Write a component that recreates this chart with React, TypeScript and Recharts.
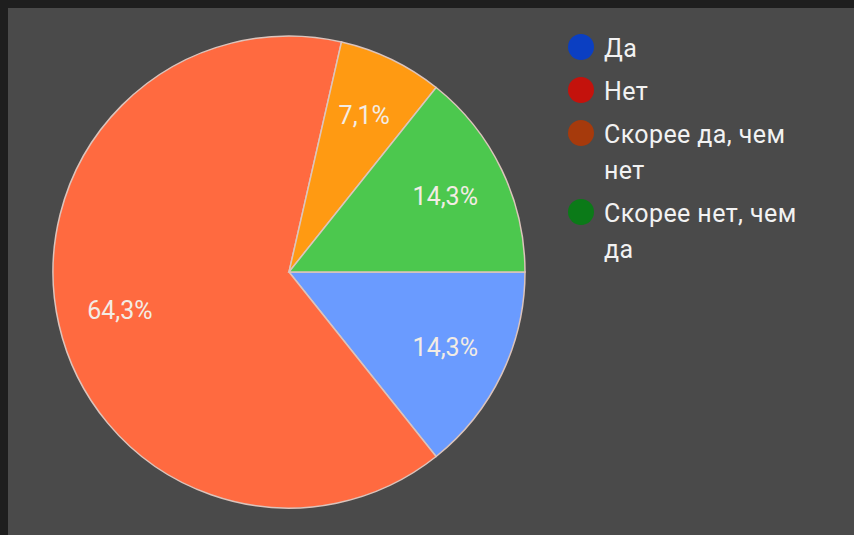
import { PieChart, Pie, Cell, Legend } from 'recharts';

const categories = ['Да', 'Нет', 'Скорее да, чем нет', 'Скорее нет, чем да'];
const counts = [2, 9, 1, 2];
const percentLabels = ['14,3%', '64,3%', '7,1%', '14,3%'];
const sliceColors = ['#6a9bff', '#ff6a40', '#ff9a12', '#4cc84e'];
const legendColors = ['#0b3fc2', '#c4120c', '#a63a0c', '#0b7a18'];

const data = categories.map((name, i) => ({ name, value: counts[i], label: percentLabels[i] }));

const FONT = 'Roboto, "Noto Sans", sans-serif';
const RADIAN = Math.PI / 180;

const renderLabel = (props: any) => {
  const { cx, cy, midAngle, outerRadius, index } = props;
  const r = outerRadius * 0.735;
  const x = cx + r * Math.cos(-midAngle * RADIAN);
  const y = cy + r * Math.sin(-midAngle * RADIAN);
  return (
    <text
      x={x}
      y={y}
      fill="#f3ece4"
      textAnchor="middle"
      dominantBaseline="central"
      style={{ fontSize: 25, fontFamily: FONT }}
    >
      {percentLabels[index]}
    </text>
  );
};

const renderLegend = () => (
  <div style={{ fontFamily: FONT, fontSize: 25, letterSpacing: 0.4, color: '#f2f2f2', lineHeight: '36px' }}>
    {categories.map((name, i) => (
      <div key={name} style={{ display: 'flex', alignItems: 'flex-start', marginBottom: 7 }}>
        <span
          style={{
            width: 26,
            height: 26,
            borderRadius: '50%',
            background: legendColors[i],
            marginTop: 3,
            marginRight: 10,
            flexShrink: 0,
          }}
        />
        <span style={{ width: 200 }}>{name}</span>
      </div>
    ))}
  </div>
);

export default function App() {
  return (
    <div style={{ position: 'absolute', left: 0, top: 0, width: 854, height: 535, background: '#1e1e1e' }}>
      <div style={{ position: 'absolute', left: 8, top: 8, right: 0, bottom: 0, background: '#4a4a4a' }} />
      <div style={{ position: 'absolute', left: 0, top: 0 }}>
        <PieChart width={854} height={535} margin={{ top: 0, right: 0, bottom: 0, left: 0 }}>
          <Pie
            data={data}
            dataKey="value"
            nameKey="name"
            cx={289}
            cy={272}
            outerRadius={236}
            startAngle={0}
            endAngle={-360}
            stroke="#dcc4bc"
            strokeWidth={1.5}
            label={renderLabel}
            labelLine={false}
            isAnimationActive={false}
          >
            {data.map((d, i) => (
              <Cell key={d.name} fill={sliceColors[i]} />
            ))}
          </Pie>
          <Legend
            content={renderLegend}
            layout="vertical"
            verticalAlign="top"
            align="right"
            wrapperStyle={{ left: 568, right: 'auto', top: 31, width: 260 }}
          />
        </PieChart>
      </div>
    </div>
  );
}
